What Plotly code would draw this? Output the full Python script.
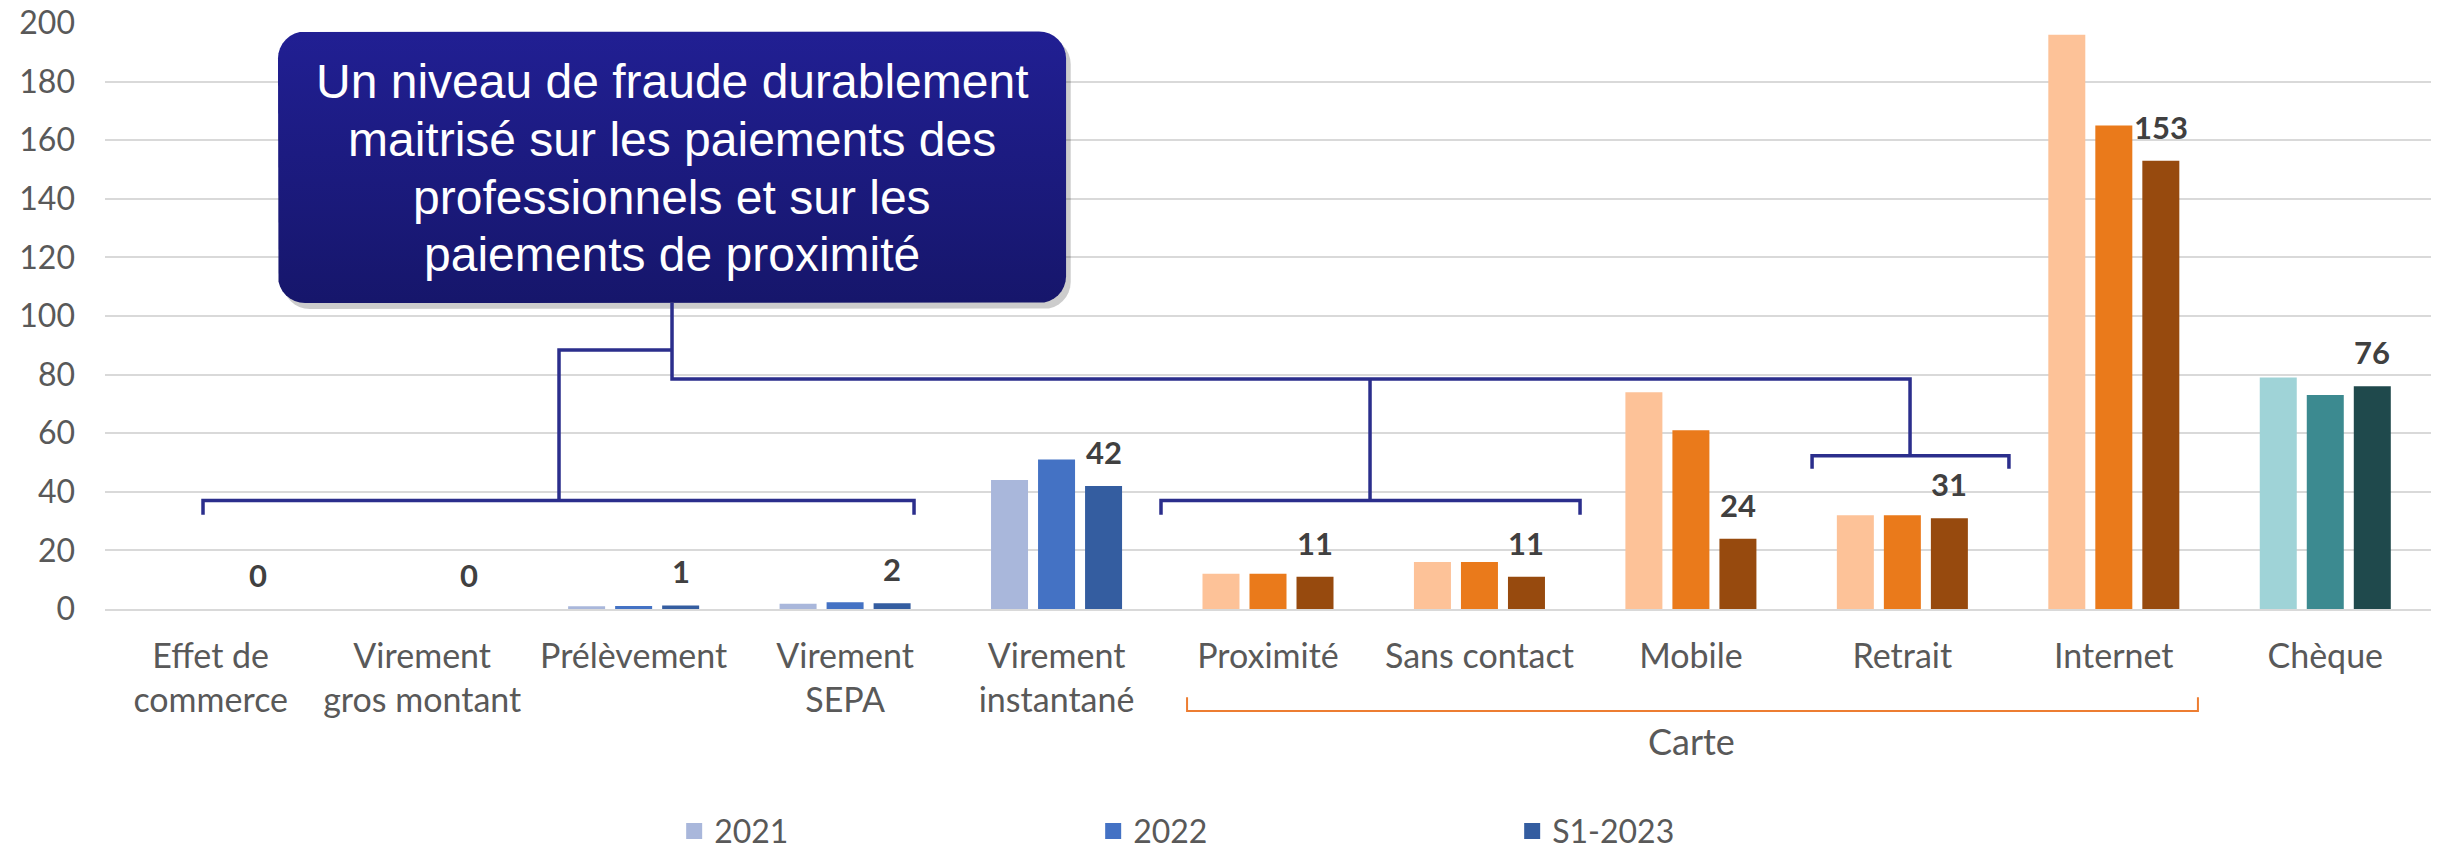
import numpy as np
import plotly.graph_objects as go

categories = ["Effet de<br>commerce", "Virement<br>gros montant", "Prélèvement", "Virement<br>SEPA",
              "Virement<br>instantané", "Proximité", "Sans contact", "Mobile", "Retrait", "Internet", "Chèque"]
series_names = ["2021", "2022", "S1-2023"]
v2021 = [0, 0, 0.9, 1.8, 44, 12, 16, 74, 32, 196, 79]
v2022 = [0, 0, 1.0, 2.3, 51, 12, 16, 61, 32, 165, 73]
v2023 = [0, 0, 1.2, 2.0, 42, 11, 11, 24, 31, 153, 76]
labels2023 = ["0", "0", "1", "2", "42", "11", "11", "24", "31", "153", "76"]

# colour family per category: blue (payments), orange (card), teal (cheque)
family = ["blue"] * 5 + ["orange"] * 5 + ["teal"]
palette = {
    "blue": ["#A9B7DB", "#4472C4", "#345DA0"],
    "orange": ["#FDC298", "#EA7A1B", "#974A0E"],
    "teal": ["#9FD3D7", "#3C8A90", "#1F494C"],
}

box_lines = ["Un niveau de fraude durablement", "maitrisé sur les paiements des",
             "professionnels et sur les", "paiements de proximité"]

FONT = "Lato"
TXT = "#595959"
NAVY = "#2B2E8C"

fig = go.Figure()
for i, (name, vals) in enumerate(zip(series_names, [v2021, v2022, v2023])):
    fig.add_trace(go.Bar(
        x=categories, y=vals, name=name, showlegend=False,
        marker=dict(color=[palette[f][i] for f in family], line=dict(width=0)),
        hoverinfo="skip",
    ))
# legend entries (square swatches in the blue family)
for i, name in enumerate(series_names):
    fig.add_trace(go.Scatter(x=[None], y=[None], mode="markers", name=name,
                             marker=dict(symbol="square", size=20, color=palette["blue"][i]),
                             hoverinfo="skip"))

# callout box: rounded rectangle with a vertical gradient, on a hidden numeric x axis
x0, x1, y0, y1 = 0.318, 4.045, 104.4, 197.1
rx, ry = 0.128, 9.2
t = np.linspace(0, np.pi / 2, 9)
bx, by = [], []
for cx, cy, a0 in [(x1 - rx, y1 - ry, 0.0), (x0 + rx, y1 - ry, np.pi / 2),
                   (x0 + rx, y0 + ry, np.pi), (x1 - rx, y0 + ry, 1.5 * np.pi)]:
    bx += list(cx + rx * np.cos(a0 + t))
    by += list(cy + ry * np.sin(a0 + t))
bx.append(bx[0])
by.append(by[0])
fig.add_trace(go.Scatter(
    x=[xx + 0.022 for xx in bx], y=[yy - 2.0 for yy in by], mode="lines", fill="toself",
    xaxis="x2", fillcolor="rgba(0,0,0,0.20)", line=dict(width=0), hoverinfo="skip", showlegend=False))
fig.add_trace(go.Scatter(
    x=bx, y=by, mode="lines", fill="toself", xaxis="x2", line=dict(width=0), hoverinfo="skip",
    showlegend=False,
    fillgradient=dict(type="vertical", start=y0, stop=y1,
                      colorscale=[[0, "#16166B"], [1, "#211F93"]])))

# data labels for S1-2023
for c, v, tx in zip(categories, v2023, labels2023):
    fig.add_annotation(x=c, y=v, text=f"<b>{tx}</b>", showarrow=False, xref="x", yref="y",
                       xshift=47, yshift=13, yanchor="bottom",
                       font=dict(family=FONT, size=31, color="#404040"))

shapes = []
# connector lines and brackets
paths = [
    "M 2.1815,104.4 L 2.1815,78.53 L 8.0363,78.53 L 8.0363,52.3",
    "M 2.1815,88.42 L 1.6471,88.42 L 1.6471,37.07",
    "M -0.0365,32.2 L -0.0365,37.07 L 3.326,37.07 L 3.326,32.2",
    "M 5.4825,78.53 L 5.4825,37.07",
    "M 4.494,32.2 L 4.494,37.07 L 6.4757,37.07 L 6.4757,32.2",
    "M 7.573,47.87 L 7.573,52.3 L 8.504,52.3 L 8.504,47.87",
]
for p in paths:
    shapes.append(dict(type="path", xref="x2", yref="y", path=p,
                       line=dict(color=NAVY, width=3.5), layer="above"))

# Carte bracket (below the axis labels)
shapes.append(dict(type="path", xref="paper", yref="paper",
                   path="M 0.4652,-0.1508 L 0.4652,-0.1741 L 0.8998,-0.1741 L 0.8998,-0.1508",
                   line=dict(color="#ED7D31", width=2)))

fig.update_layout(shapes=shapes)

box_y = [180.1, 160.3, 140.5, 121.1]
for line, yy in zip(box_lines, box_y):
    fig.add_annotation(x=2.181, y=yy, xref="x2", yref="y", text=line, showarrow=False,
                       yanchor="middle", font=dict(family="Liberation Sans", size=48, color="white"))

fig.add_annotation(x=0.6819, y=-0.2257, xref="paper", yref="paper", text="Carte", showarrow=False,
                   xanchor="center", yanchor="middle", font=dict(family=FONT, size=36, color=TXT))

fig.update_layout(
    width=2448, height=849,
    margin=dict(l=105, r=17, t=22.5, b=239.5, autoexpand=False),
    paper_bgcolor="white", plot_bgcolor="white",
    barmode="group", bargap=0.333, bargroupgap=0.213,
    font=dict(family=FONT, size=32, color=TXT),
    xaxis=dict(showgrid=False, showline=True, linecolor="#D9D9D9", linewidth=2,
               ticks="", ticklabelstandoff=16, tickfont=dict(family=FONT, size=34, color=TXT),
               fixedrange=True),
    xaxis2=dict(overlaying="x", range=[-0.5, len(categories) - 0.5], visible=False,
                fixedrange=True),
    yaxis=dict(range=[0, 200], dtick=20, showgrid=True, gridcolor="#D9D9D9", gridwidth=1.5,
               zeroline=False, ticks="", tickfont=dict(family=FONT, size=32, color=TXT),
               ticklabelstandoff=29, fixedrange=True),
    legend=dict(orientation="h", x=0.2447, xanchor="left", y=-0.379, yanchor="middle",
                entrywidth=374, itemsizing="trace", font=dict(family=FONT, size=32, color=TXT),
                bgcolor="rgba(0,0,0,0)"),
    showlegend=True,
)

fig.write_html("out.html", config={"displayModeBar": False},
               post_script="document.body.style.margin='0';document.body.style.overflow='hidden';")
